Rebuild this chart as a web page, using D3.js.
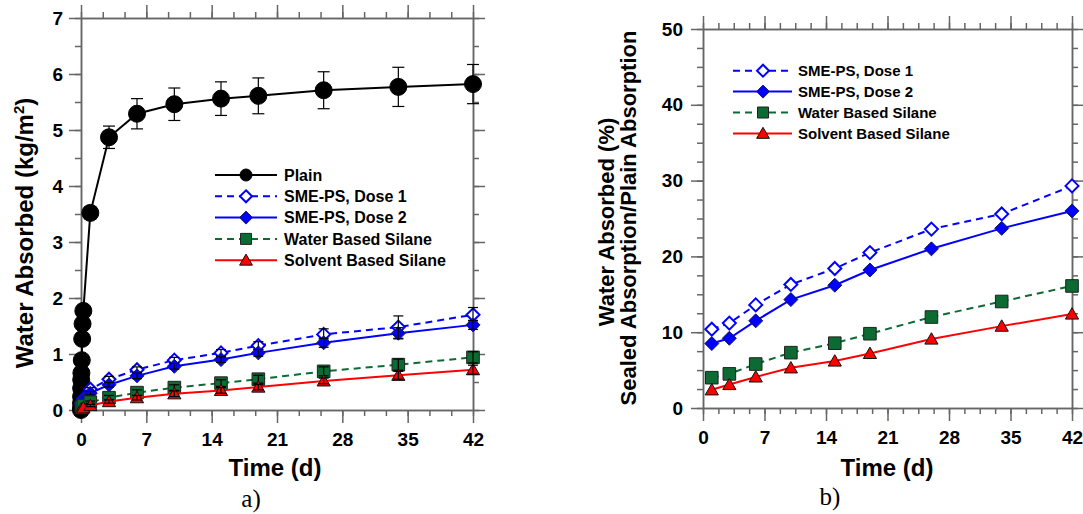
<!DOCTYPE html>
<html>
<head>
<meta charset="utf-8">
<script src="https://cdn.jsdelivr.net/npm/d3@7"></script>
<style>
  body { margin: 0; background: #fff; }
  svg { display: block; font-family: "Liberation Sans", Arial, sans-serif; }
  .axis path, .axis line { stroke: #666; stroke-width: 1.5; }
  .axis text { font-size: 19px; font-weight: bold; fill: #000; }
</style>
</head>
<body>
<svg width="1083" height="514"></svg>
<script>
// ---- data: panel a (kg/m2) ----
const earlyT = [0, 0.0007, 0.0035, 0.007, 0.014, 0.021, 0.042, 0.083, 0.125, 0.167, 0.25];
const dayT = [1, 3, 6, 10, 15, 19, 26, 34, 42];
const plainVals = [0, 0.03, 0.12, 0.24, 0.39, 0.54, 0.66, 0.89, 1.27, 1.54, 1.77,
  3.52, 4.87, 5.29, 5.46, 5.56, 5.61, 5.71, 5.77, 5.82];
const plainErr = [0, 0, 0, 0, 0, 0, 0, 0, 0, 0, 0,
  0.11, 0.2, 0.27, 0.29, 0.3, 0.32, 0.33, 0.35, 0.35];

const sealedEarlyT = [0.042, 0.25];
const dose1Vals = [0.12, 0.2, 0.37, 0.55, 0.72, 0.89, 1.02, 1.15, 1.35, 1.48, 1.70];
const dose1Err = [0, 0, 0.03, 0.05, 0.05, 0.05, 0.06, 0.07, 0.1, 0.2, 0.13];
const dose2Vals = [0.1, 0.17, 0.30, 0.45, 0.61, 0.78, 0.90, 1.02, 1.20, 1.37, 1.52];
const dose2Err = [0, 0, 0.03, 0.04, 0.05, 0.05, 0.05, 0.06, 0.08, 0.1, 0.08];
const waterVals = [0.05, 0.08, 0.14, 0.22, 0.31, 0.40, 0.48, 0.55, 0.69, 0.81, 0.94];
const waterErr = [0, 0, 0.02, 0.04, 0.05, 0.05, 0.06, 0.07, 0.08, 0.1, 0.1];
const solventVals = [0.02, 0.04, 0.08, 0.15, 0.22, 0.29, 0.35, 0.41, 0.52, 0.62, 0.72];
const solventErr = [0, 0, 0.02, 0.03, 0.04, 0.05, 0.05, 0.05, 0.05, 0.07, 0.08];

// ---- data: panel b (% of plain) ----
const dose1Pct = [10.4, 11.2, 13.6, 16.3, 18.4, 20.5, 23.6, 25.6, 29.3];
const dose2Pct = [8.5, 9.2, 11.5, 14.3, 16.2, 18.2, 21.0, 23.7, 26.0];
const waterPct = [4.0, 4.5, 5.8, 7.3, 8.55, 9.8, 12.0, 14.05, 16.1];
const solventPct = [2.4, 3.1, 4.1, 5.3, 6.2, 7.2, 9.1, 10.8, 12.4];

const xTicks = [0, 7, 14, 21, 28, 35, 42];
const legendA = ["Plain", "SME-PS, Dose 1", "SME-PS, Dose 2", "Water Based Silane", "Solvent Based Silane"];
const legendB = ["SME-PS, Dose 1", "SME-PS, Dose 2", "Water Based Silane", "Solvent Based Silane"];

const svg = d3.select("svg");
svg.append("rect").attr("width", 1083).attr("height", 514).attr("fill", "#fff");

// marker shapes
function markerPath(kind, s) {
  if (kind === "circle") return d3.symbol(d3.symbolCircle, Math.PI * s * s)();
  if (kind === "diamond") return `M0,${-s}L${s},0L0,${s}L${-s},0Z`;
  if (kind === "square") return `M${-s},${-s}H${s}V${s}H${-s}Z`;
  if (kind === "triangle") return `M0,${-s * 1.05}L${s * 1.1},${s * 0.85}L${-s * 1.1},${s * 0.85}Z`;
}

const styles = {
  plain:   { color: "#000", dash: null, marker: "circle", fill: "#000", mstroke: "#000", size: 8.5, lsize: 6 },
  dose1:   { color: "#0000ff", dash: "7,5", marker: "diamond", fill: "#fff", mstroke: "#0000ff", size: 6.5, lsize: 6, mw: 2 },
  dose2:   { color: "#0000ff", dash: null, marker: "diamond", fill: "#0000ff", mstroke: "#1a1a60", size: 7, lsize: 6.5 },
  water:   { color: "#0b6b32", dash: "7,5", marker: "square", fill: "#0b6b32", mstroke: "#222", size: 6.3, lsize: 5.5 },
  solvent: { color: "#ff0000", dash: null, marker: "triangle", fill: "#ff0000", mstroke: "#111", size: 6, lsize: 5.8 }
};

function makeAxes(g, x, y, yMajor, yMinor, xMinor, pad) {
  const left = x.range()[0], right = x.range()[1];
  const bottom = y.range()[0], top = y.range()[1];
  const fmt = d3.format("d");
  g.append("g").attr("class", "axis").attr("transform", `translate(0,${bottom})`)
    .call(d3.axisBottom(x).tickValues(xMinor).tickSize(6).tickSizeOuter(0).tickFormat(""));
  g.append("g").attr("class", "axis").attr("transform", `translate(0,${bottom})`)
    .call(d3.axisBottom(x).tickValues(xTicks).tickSize(13).tickSizeOuter(0).tickPadding(10).tickFormat(fmt));
  g.append("g").attr("class", "axis").attr("transform", `translate(0,${top})`)
    .call(d3.axisTop(x).tickValues(xMinor).tickSize(6).tickSizeOuter(0).tickFormat(""));
  g.append("g").attr("class", "axis").attr("transform", `translate(0,${top})`)
    .call(d3.axisTop(x).tickValues(xTicks).tickSize(13).tickSizeOuter(0).tickFormat(""));
  g.append("g").attr("class", "axis").attr("transform", `translate(${left},0)`)
    .call(d3.axisLeft(y).tickValues(yMinor).tickSize(6).tickSizeOuter(0).tickFormat(""));
  g.append("g").attr("class", "axis").attr("transform", `translate(${left},0)`)
    .call(d3.axisLeft(y).tickValues(yMajor).tickSize(12).tickSizeOuter(0).tickPadding(pad).tickFormat(fmt));
  g.append("g").attr("class", "axis").attr("transform", `translate(${right},0)`)
    .call(d3.axisRight(y).tickValues(yMinor).tickSize(6).tickSizeOuter(0).tickFormat(""));
  g.append("g").attr("class", "axis").attr("transform", `translate(${right},0)`)
    .call(d3.axisRight(y).tickValues(yMajor).tickSize(12).tickSizeOuter(0).tickFormat(""));
}

function drawSeries(g, x, y, ts, vals, errs, st) {
  const pts = ts.map((t, i) => ({ t: t, v: vals[i], e: errs ? errs[i] : 0 }));
  g.append("path").datum(pts)
    .attr("fill", "none").attr("stroke", st.color).attr("stroke-width", 2)
    .attr("stroke-dasharray", st.dash)
    .attr("d", d3.line().x(d => x(d.t)).y(d => y(d.v)));
  g.selectAll(null).data(pts).enter().append("path")
    .attr("transform", d => `translate(${x(d.t)},${y(d.v)})`)
    .attr("d", markerPath(st.marker, st.size))
    .attr("fill", st.fill).attr("stroke", st.mstroke).attr("stroke-width", st.mw || 1);
  const eb = pts.filter(d => d.e > 0);
  const cw = st.marker === "circle" ? 6 : 5;
  eb.forEach(d => {
    const cx = x(d.t), y1 = y(d.v + d.e), y2 = y(d.v - d.e);
    g.append("line").attr("x1", cx).attr("x2", cx).attr("y1", y1).attr("y2", y2)
      .attr("stroke", "#000").attr("stroke-width", 1.2);
    [y1, y2].forEach(yy => g.append("line")
      .attr("x1", cx - cw).attr("x2", cx + cw).attr("y1", yy).attr("y2", yy)
      .attr("stroke", "#000").attr("stroke-width", 1.2));
  });
}

function drawLegend(g, names, keys, x0, x1, xm, xt, y0, dy, fs) {
  names.forEach((name, i) => {
    const st = styles[keys[i]];
    const yy = y0 + i * dy;
    g.append("line").attr("x1", x0).attr("x2", x1).attr("y1", yy).attr("y2", yy)
      .attr("stroke", st.color).attr("stroke-width", 2).attr("stroke-dasharray", st.dash);
    g.append("path").attr("transform", `translate(${xm},${yy})`)
      .attr("d", markerPath(st.marker, st.lsize))
      .attr("fill", st.fill).attr("stroke", st.mstroke).attr("stroke-width", st.mw || 1);
    g.append("text").attr("x", xt).attr("y", yy).attr("dy", "0.36em")
      .attr("font-size", fs).attr("font-weight", "bold").text(name);
  });
}

const minorA = d3.range(0, 42.01, 7 / 3);
const minorB = d3.range(0, 42.01, 1.75);

// ---- panel a ----
const gA = svg.append("g");
const xA = d3.scaleLinear().domain([0, 42]).range([81, 473]);
const yA = d3.scaleLinear().domain([0, 7]).range([410, 18]);
makeAxes(gA, xA, yA, d3.range(0, 8), d3.range(0, 7.01, 0.5), minorA, 6);

const allA = earlyT.concat(dayT);
const sealA = sealedEarlyT.concat(dayT);
drawSeries(gA, xA, yA, allA, plainVals, plainErr, styles.plain);
drawSeries(gA, xA, yA, sealA, dose1Vals, dose1Err, styles.dose1);
drawSeries(gA, xA, yA, sealA, dose2Vals, dose2Err, styles.dose2);
drawSeries(gA, xA, yA, sealA, waterVals, waterErr, styles.water);
drawSeries(gA, xA, yA, sealA, solventVals, solventErr, styles.solvent);

drawLegend(gA, legendA, ["plain", "dose1", "dose2", "water", "solvent"], 215, 277, 246, 284, 175, 21.3, 16);

gA.append("text").attr("transform", "translate(33,233) rotate(-90)")
  .attr("text-anchor", "middle").attr("font-size", 24).attr("font-weight", "bold")
  .html('Water Absorbed (kg/m<tspan dy="-9" font-size="15">2</tspan><tspan dy="9">)</tspan>');
gA.append("text").attr("x", 275).attr("y", 476).attr("text-anchor", "middle")
  .attr("font-size", 24).attr("font-weight", "bold").text("Time (d)");
gA.append("text").attr("x", 251).attr("y", 507).attr("text-anchor", "middle")
  .attr("font-size", 25).attr("font-family", "Liberation Serif, Times New Roman, serif").text("a)");

// ---- panel b ----
const gB = svg.append("g");
const xB = d3.scaleLinear().domain([0, 42]).range([703, 1072]);
const yB = d3.scaleLinear().domain([0, 50]).range([408, 29]);
makeAxes(gB, xB, yB, d3.range(0, 51, 10), d3.range(0, 50.01, 2.5), minorB, 8);

drawSeries(gB, xB, yB, dayT, dose1Pct, null, styles.dose1);
drawSeries(gB, xB, yB, dayT, dose2Pct, null, styles.dose2);
drawSeries(gB, xB, yB, dayT, waterPct, null, styles.water);
drawSeries(gB, xB, yB, dayT, solventPct, null, styles.solvent);

drawLegend(gB, legendB, ["dose1", "dose2", "water", "solvent"], 733, 792, 763, 798, 70.7, 20.9, 15);

gB.append("text").attr("transform", "translate(614,222) rotate(-90)")
  .attr("text-anchor", "middle").attr("font-size", 22).attr("font-weight", "bold")
  .text("Water Absorbed (%)");
gB.append("text").attr("transform", "translate(636,218) rotate(-90)")
  .attr("text-anchor", "middle").attr("font-size", 22).attr("font-weight", "bold")
  .text("Sealed Absorption/Plain Absorption");
gB.append("text").attr("x", 887).attr("y", 476).attr("text-anchor", "middle")
  .attr("font-size", 24).attr("font-weight", "bold").text("Time (d)");
gB.append("text").attr("x", 830).attr("y", 505).attr("text-anchor", "middle")
  .attr("font-size", 25).attr("font-family", "Liberation Serif, Times New Roman, serif").text("b)");
</script>
</body>
</html>
